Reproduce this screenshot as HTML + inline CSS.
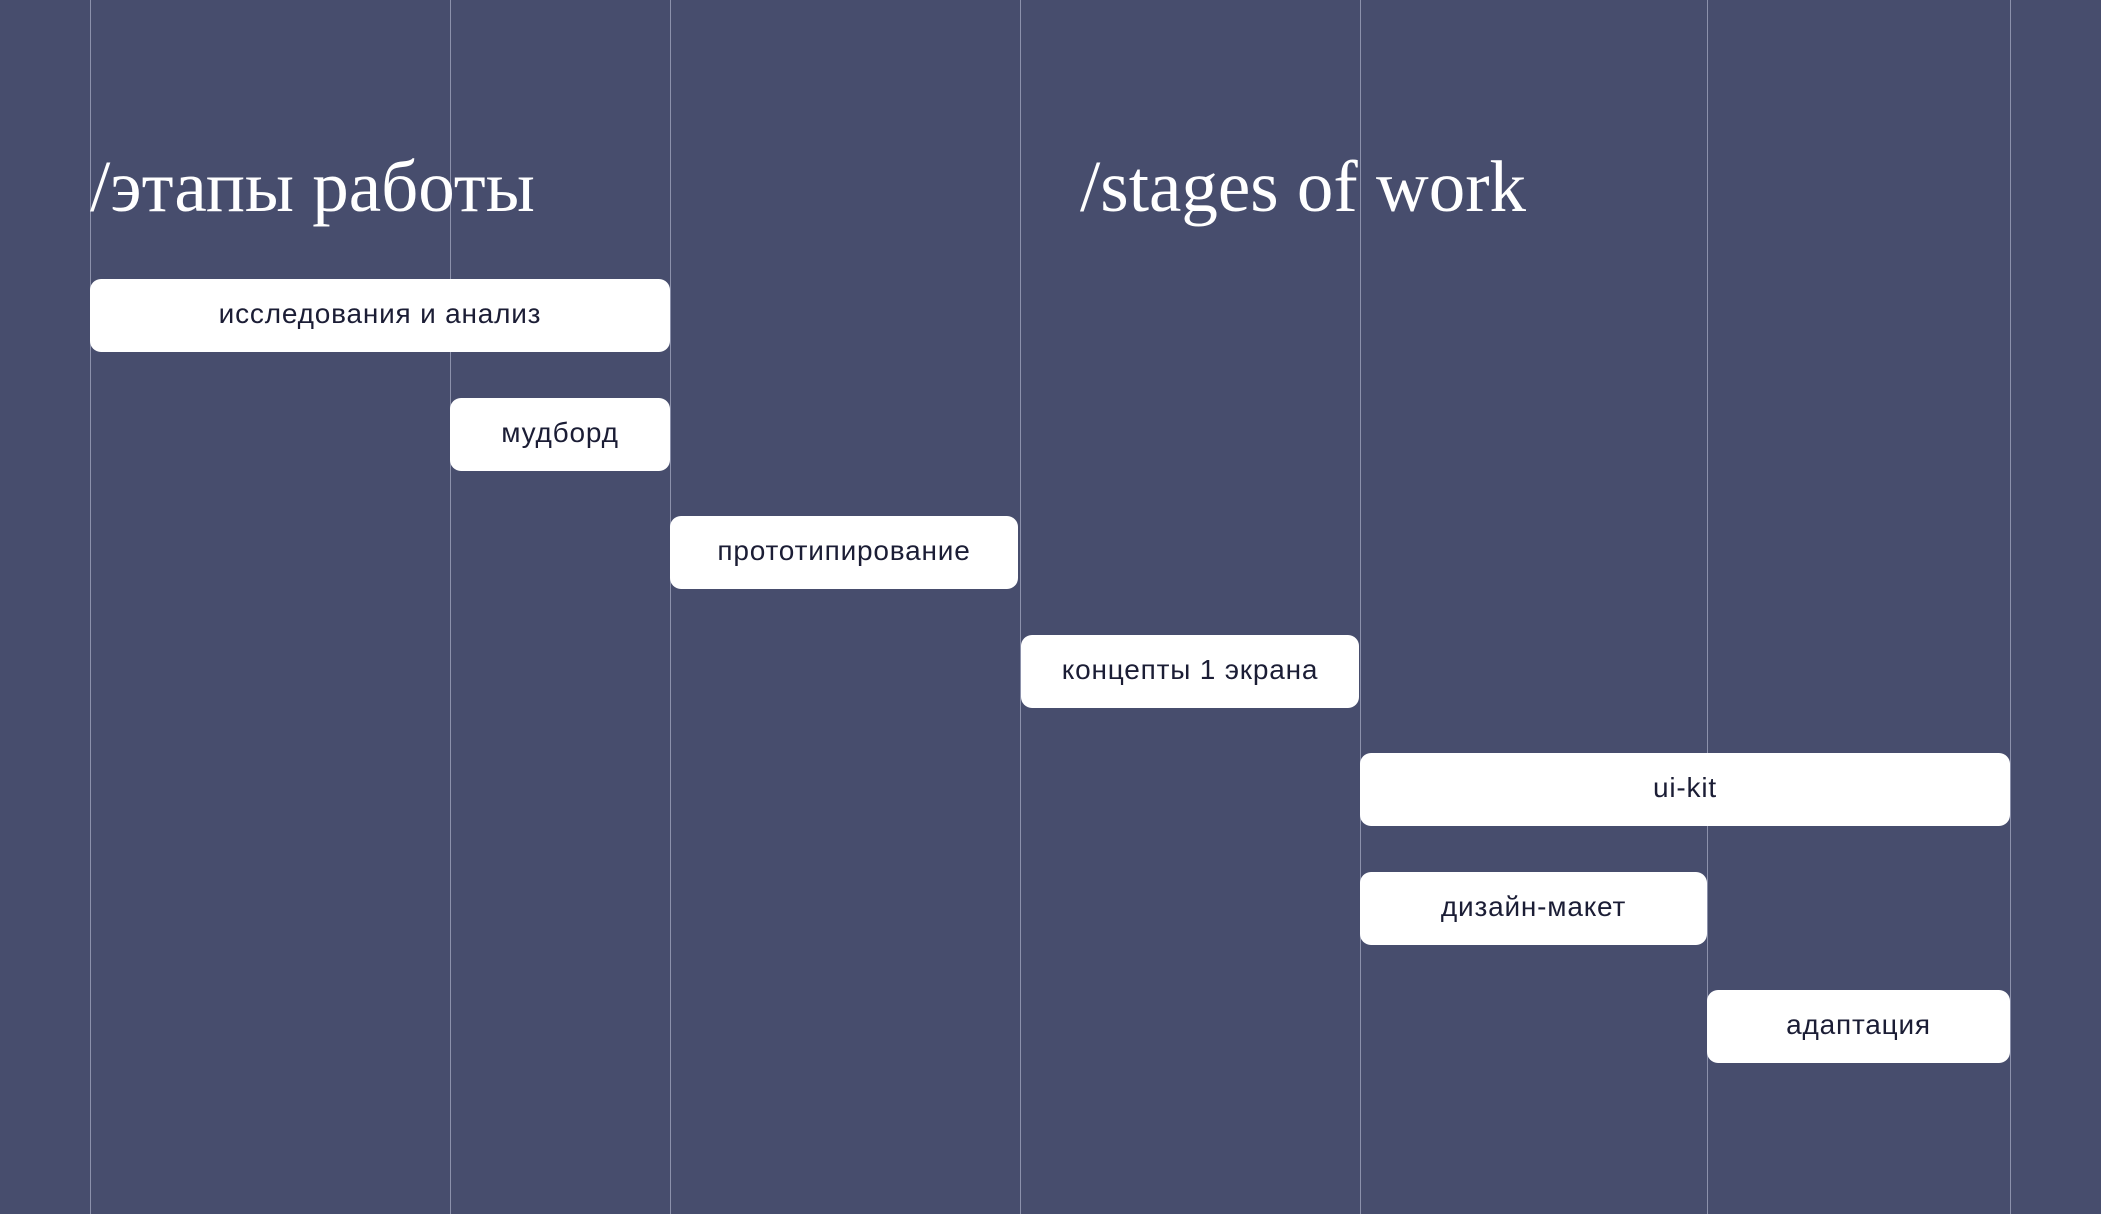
<!DOCTYPE html>
<html><head><meta charset="utf-8"><style>
html,body{margin:0;padding:0}
body{width:2101px;height:1214px;background:#474d6d;position:relative;overflow:hidden;font-family:"Liberation Sans","Noto Sans CJK SC",sans-serif}
.v{position:absolute;top:0;height:1214px;width:1px;background:#8c91ab}
.b{position:absolute;background:#fff;border-radius:11px;display:flex;align-items:center;justify-content:center;color:#1b1d35;font-size:28px;letter-spacing:0.8px;height:73px;padding-bottom:3px;box-sizing:border-box}
.t{position:absolute;top:150px;color:#fff;font-family:"Liberation Serif","Noto Serif CJK SC",serif;font-size:73px;white-space:nowrap;line-height:1}
</style></head><body>
<div class="v" style="left:90px"></div>
<div class="v" style="left:450px"></div>
<div class="v" style="left:670px"></div>
<div class="v" style="left:1020px"></div>
<div class="v" style="left:1360px"></div>
<div class="v" style="left:1707px"></div>
<div class="v" style="left:2010px"></div>
<div class="t" style="left:90px">/этапы работы</div>
<div class="t" style="left:1080px">/stages of work</div>
<div class="b" style="left:90px;top:279px;width:580px">исследования и анализ</div>
<div class="b" style="left:450px;top:398px;width:220px">мудборд</div>
<div class="b" style="left:670px;top:516px;width:348px">прототипирование</div>
<div class="b" style="left:1021px;top:635px;width:338px">концепты 1 экрана</div>
<div class="b" style="left:1360px;top:753px;width:650px">ui-kit</div>
<div class="b" style="left:1360px;top:872px;width:347px">дизайн-макет</div>
<div class="b" style="left:1707px;top:990px;width:303px">адаптация</div>
</body></html>
